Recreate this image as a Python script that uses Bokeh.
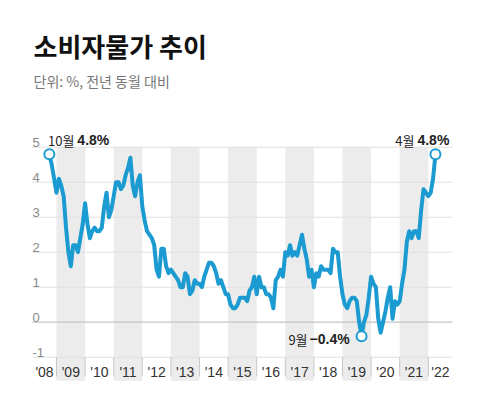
import numpy as np
from bokeh.plotting import figure
from bokeh.models import Range1d, ColumnDataSource
from bokeh.core.properties import value
from bokeh.embed import file_html
from bokeh.resources import INLINE

# ---- data: Korean CPI, % change year on year, monthly from Oct 2008 to Apr 2022
start_year, start_month = 2008, 10
cpi_2008 = [4.8, 4.5, 4.1]
cpi_2009 = [3.7, 4.1, 3.9, 3.6, 2.7, 2.0, 1.6, 2.2, 2.2, 2.0, 2.4, 2.8]
cpi_2010 = [3.4, 2.8, 2.4, 2.6, 2.7, 2.6, 2.6, 2.7, 3.3, 3.7, 3.0, 3.2]
cpi_2011 = [3.6, 4.0, 4.0, 3.8, 3.9, 4.2, 4.4, 4.7, 3.9, 3.6, 4.0, 4.2]
cpi_2012 = [3.3, 2.9, 2.6, 2.5, 2.4, 2.2, 1.5, 1.3, 2.1, 2.1, 1.6, 1.4]
cpi_2013 = [1.5, 1.4, 1.3, 1.2, 1.0, 1.0, 1.4, 1.3, 0.8, 0.9, 1.2, 1.1]
cpi_2014 = [1.1, 1.0, 1.3, 1.5, 1.7, 1.7, 1.6, 1.4, 1.1, 1.2, 1.0, 0.8]
cpi_2015 = [0.8, 0.5, 0.4, 0.4, 0.5, 0.7, 0.7, 0.7, 0.6, 0.9, 1.0, 1.3]
cpi_2016 = [0.8, 1.3, 1.0, 1.0, 0.8, 0.8, 0.7, 0.4, 1.2, 1.3, 1.5, 1.3]
cpi_2017 = [2.0, 1.9, 2.2, 1.9, 2.0, 1.9, 2.2, 2.5, 2.1, 1.8, 1.3, 1.5]
cpi_2018 = [1.0, 1.4, 1.3, 1.6, 1.5, 1.5, 1.5, 1.4, 2.1, 2.0, 2.0, 1.3]
cpi_2019 = [0.8, 0.5, 0.4, 0.6, 0.7, 0.7, 0.6, 0.0, -0.4, 0.0, 0.2, 0.7]
cpi_2020 = [1.3, 1.1, 1.0, 0.1, -0.3, 0.0, 0.3, 0.7, 1.0, 0.1, 0.6, 0.5]
cpi_2021 = [0.6, 1.1, 1.5, 2.3, 2.6, 2.4, 2.6, 2.6, 2.4, 3.2, 3.8, 3.7]
cpi_2022 = [3.6, 3.7, 4.1, 4.8]

years = list(range(2008, 2023))
year_labels = ["'08", "'09", "'10", "'11", "'12", "'13", "'14", "'15",
               "'16", "'17", "'18", "'19", "'20", "'21", "'22"]
y_ticks = [-1, 0, 1, 2, 3, 4, 5]
y_tick_labels = ["-1", "0", "1", "2", "3", "4", "5"]

title_text = "소비자물가 추이"
subtitle_text = "단위: %, 전년 동월 대비"
ann_months = ["10월", "9월", "4월"]

cpi = (cpi_2008 + cpi_2009 + cpi_2010 + cpi_2011 + cpi_2012 + cpi_2013 +
       cpi_2014 + cpi_2015 + cpi_2016 + cpi_2017 + cpi_2018 + cpi_2019 +
       cpi_2020 + cpi_2021 + cpi_2022)
t = [start_year + (start_month - 1 + i) / 12 for i in range(len(cpi))]

# ---- figure (frame spans the whole canvas; header texts live above the value 5)
X0, X1 = 2008.161, 2022.846     # drawn area of the chart
YB = -1.67                      # bottom of year label row
p = figure(width=462, height=382, output_backend="svg", toolbar_location=None,
           x_range=Range1d(2007.042, 2023.196), y_range=Range1d(-1.723, 9.191),
           min_border_left=0, min_border_right=0, min_border_bottom=0, min_border_top=0,
           x_axis_location=None, y_axis_location=None)
p.grid.visible = False
p.outline_line_color = None
p.background_fill_color = "white"
p.border_fill_color = "white"

# header
p.text(x=[2008.196], y=[7.906], text=[title_text], text_align="left", text_baseline="middle",
       text_font=value("Noto Sans CJK KR"), text_font_size="26px", text_font_style="bold",
       text_color="#111111")
p.text(x=[2008.196], y=[6.891], text=[subtitle_text], text_align="left", text_baseline="middle",
       text_font=value("Noto Sans CJK KR"), text_font_size="14px",
       text_color="#777777")

# alternating year bands
band_years = [y for y in years if y % 2 == 1]
p.quad(left=band_years, right=[y + 1 for y in band_years], bottom=YB, top=5,
       fill_color="#ececec", line_color=None)

# horizontal grid lines
grid_y = [v for v in y_ticks if v != 0]
p.segment(x0=X0, x1=X1, y0=grid_y, y1=grid_y, line_color="#e0e0e0", line_width=1)
p.segment(x0=X0, x1=X1, y0=0, y1=0, line_color="#c4c4c4", line_width=1.2)

# separators in the year label row
sep = years[1:]
p.segment(x0=sep, x1=sep, y0=-1, y1=-1.55, line_color="#c8c8c8", line_width=1)

# y tick labels sitting on the grid lines
p.text(x=X0, y=y_ticks, text=y_tick_labels, text_align="left",
       text_baseline="alphabetic", y_offset=-5,
       text_font=value("Liberation Sans"), text_font_size="13px", text_color="#8a8a8a")

# x labels centred in each year's column
xc = [(max(y, X0) + min(y + 1, X1)) / 2 for y in years]
p.text(x=xc, y=-1, text=year_labels, text_align="center", text_baseline="middle",
       y_offset=15, text_font=value("Liberation Sans"), text_font_size="14px",
       text_color="#333333")

# the series
p.line(t, cpi, line_color="#1b9bd1", line_width=4, line_join="round", line_cap="round")

i_first, i_last = 0, len(cpi) - 1
i_min = int(np.argmin(cpi))
pts = [i_first, i_min, i_last]
p.scatter([t[i] for i in pts], [cpi[i] for i in pts], size=10, marker="circle",
          fill_color="white", line_color="#1b9bd1", line_width=2)

# annotations
src_top = ColumnDataSource(dict(x=[t[i_first], t[i_last]], y=[cpi[i_first], cpi[i_last]],
                                m=[ann_months[0], ann_months[2]],
                                v=[f"{cpi[i_first]:.1f}%", f"{cpi[i_last]:.1f}%"],
                                mo=[25, -21], vo=[28, -18]))
p.text(x="x", y="y", text="m", source=src_top, x_offset="mo", y_offset=-14,
       text_align="right", text_baseline="middle",
       text_font=value("Noto Sans CJK KR"), text_font_size="13px", text_color="#222222")
p.text(x="x", y="y", text="v", source=src_top, x_offset="vo", y_offset=-14,
       text_align="left", text_baseline="middle", text_font_style="bold",
       text_font=value("Liberation Sans"), text_font_size="14px", text_color="#222222")

p.text(x=[t[i_min]], y=[cpi[i_min]], text=[ann_months[1]], x_offset=-54, y_offset=3,
       text_align="right", text_baseline="middle",
       text_font=value("Noto Sans CJK KR"), text_font_size="13px", text_color="#222222")
p.text(x=[t[i_min]], y=[cpi[i_min]], text=["\u2212" + f"{abs(cpi[i_min]):.1f}%"],
       x_offset=-52, y_offset=3, text_align="left", text_baseline="middle",
       text_font_style="bold", text_font=value("Liberation Sans"),
       text_font_size="14px", text_color="#222222")

open("out.html", "w").write(file_html(p, INLINE))
